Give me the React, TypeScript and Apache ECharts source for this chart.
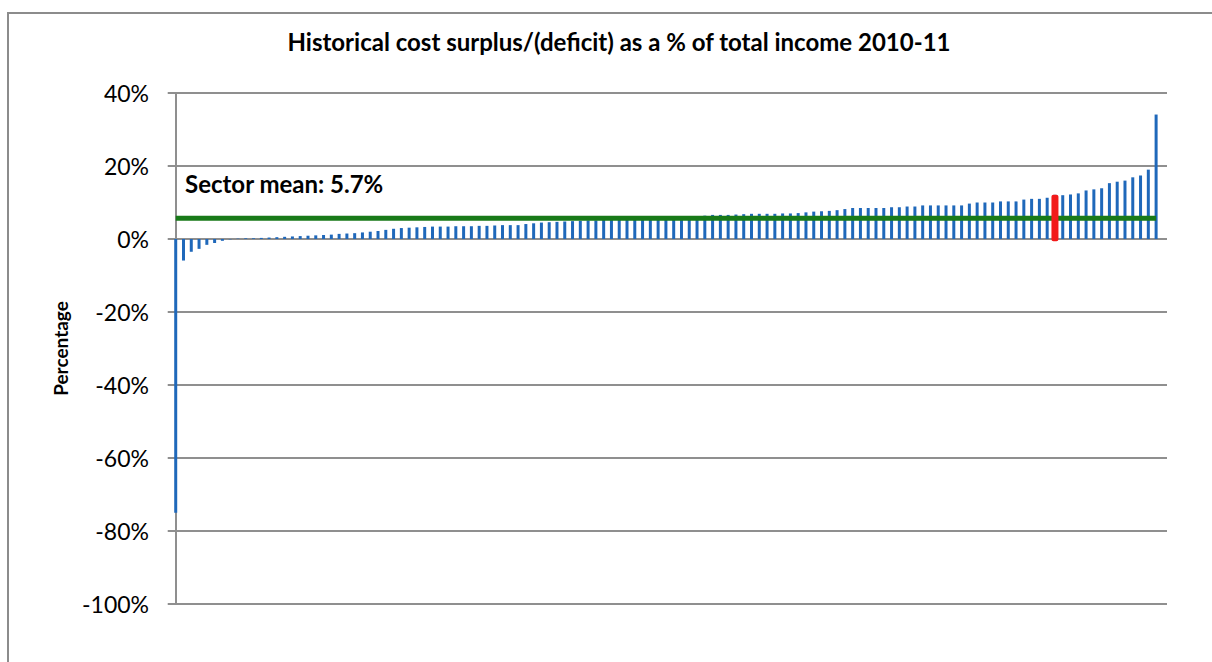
import React, { useEffect, useRef } from "react";
import * as echarts from "echarts";

// Surplus/(deficit) as % of total income, one bar per institution, sorted ascending
const values: number[] = [
  -75, -5.9, -3.5, -2.7, -1.6, -1.1, -0.5, -0.1, 0.1, 0.2,
  0.2, 0.3, 0.4, 0.5, 0.6, 0.7, 0.8, 0.9, 1.0, 1.1,
  1.2, 1.4, 1.5, 1.6, 1.8, 2.0, 2.2, 2.5, 2.8, 3.0,
  3.1, 3.2, 3.3, 3.4, 3.4, 3.4, 3.5, 3.5, 3.5, 3.6,
  3.6, 3.7, 3.8, 3.8, 3.8, 4.1, 4.3, 4.5, 4.6, 4.7,
  4.8, 4.9, 5.0, 5.1, 5.1, 5.2, 5.3, 5.4, 5.5, 5.5,
  5.6, 5.7, 5.8, 5.9, 6.0, 6.1, 6.2, 6.3, 6.4, 6.6,
  6.6, 6.6, 6.7, 6.8, 6.9, 6.9, 6.9, 6.9, 7.0, 7.0,
  7.1, 7.3, 7.5, 7.6, 7.7, 7.9, 8.2, 8.5, 8.5, 8.5,
  8.5, 8.5, 8.7, 8.7, 8.9, 8.9, 9.2, 9.2, 9.2, 9.2,
  9.2, 9.2, 9.7, 10.0, 10.0, 10.0, 10.3, 10.3, 10.3, 10.8,
  11.0, 11.0, 11.3, 12.1, 12.0, 12.2, 12.5, 13.3, 13.6, 13.9,
  15.3, 15.7, 16.0, 16.9, 17.4, 19.0, 34.1,
];

const sectorMean = 5.7;
const highlightIndex = 113;
const highlightRange: [number, number] = [-0.6, 12.1];

const yTicks = { min: -100, max: 40, interval: 20 };
const titleText = "Historical cost surplus/(deficit) as a % of total income 2010-11";
const yAxisTitle = "Percentage";
const meanLabel = `Sector mean: ${sectorMean}%`;

const FONT = "Lato, 'Liberation Sans', sans-serif";

export default function App() {
  const ref = useRef<HTMLDivElement>(null);

  useEffect(() => {
    document.body.style.margin = "0";
    const chart = echarts.init(ref.current!, null, { renderer: "svg" });
    const barData = values.map((v, i) => [i, v]);
    const meanData = values.map((_, i) => [i, sectorMean]);

    chart.setOption({
      animation: false,
      backgroundColor: "#ffffff",
      title: {
        text: titleText,
        left: 614,
        textAlign: "center",
        top: 24,
        textStyle: { fontFamily: FONT, fontSize: 24, fontWeight: "bold", color: "#000" },
      },
      grid: { left: 174, right: 45, top: 93, bottom: 58, containLabel: false },
      xAxis: {
        type: "value",
        min: -0.22,
        max: 127.4,
        axisLine: { show: false },
        axisTick: { show: false },
        axisLabel: { show: false },
        splitLine: { show: false },
      },
      yAxis: {
        type: "value",
        min: yTicks.min,
        max: yTicks.max,
        interval: yTicks.interval,
        name: yAxisTitle,
        nameLocation: "middle",
        nameRotate: 90,
        nameGap: 104,
        nameTextStyle: { fontFamily: FONT, fontSize: 19, fontWeight: "bold", color: "#000" },
        axisLine: { show: true, lineStyle: { color: "#8f8f8f", width: 2 } },
        axisTick: { show: true, length: 8, lineStyle: { color: "#8f8f8f", width: 2 } },
        axisLabel: {
          formatter: (v: number) => `${v}%`,
          fontFamily: FONT,
          fontSize: 23,
          color: "#000",
          margin: 25,
        },
        splitLine: { show: true, lineStyle: { color: "#8f8f8f", width: 2 } },
      },
      series: [
        {
          type: "bar",
          data: barData,
          barWidth: 3,
          itemStyle: { color: "#1F68BA" },
        },
        {
          type: "line",
          data: meanData,
          symbol: "none",
          lineStyle: { color: "#187A18", width: 5 },
          z: 5,
        },
        {
          type: "custom",
          data: [[highlightIndex, highlightRange[0], highlightRange[1]]],
          z: 6,
          renderItem: (params: any, api: any) => {
            const top = api.coord([api.value(0), api.value(2)]);
            const bottom = api.coord([api.value(0), api.value(1)]);
            const w = 7;
            return {
              type: "rect",
              shape: { x: top[0] - w / 2, y: top[1], width: w, height: bottom[1] - top[1], r: 2 },
              style: { fill: "#F21A1A" },
            };
          },
        },
      ],
      graphic: [
        {
          type: "rect",
          shape: { x: 8, y: 13, width: 1400, height: 900 },
          style: { fill: "none", stroke: "#8c8c8c", lineWidth: 2 },
          silent: true,
        },
        {
          type: "text",
          x: 185,
          y: 183,
          style: {
            text: meanLabel,
            fontFamily: FONT,
            fontSize: 24,
            fontWeight: "bold",
            fill: "#000",
            textVerticalAlign: "middle",
          },
          z: 10,
        },
      ],
    });

    return () => chart.dispose();
  }, []);

  return (
    <div
      ref={ref}
      style={{ position: "absolute", left: 0, top: 0, width: 1212, height: 662, background: "#fff" }}
    />
  );
}
